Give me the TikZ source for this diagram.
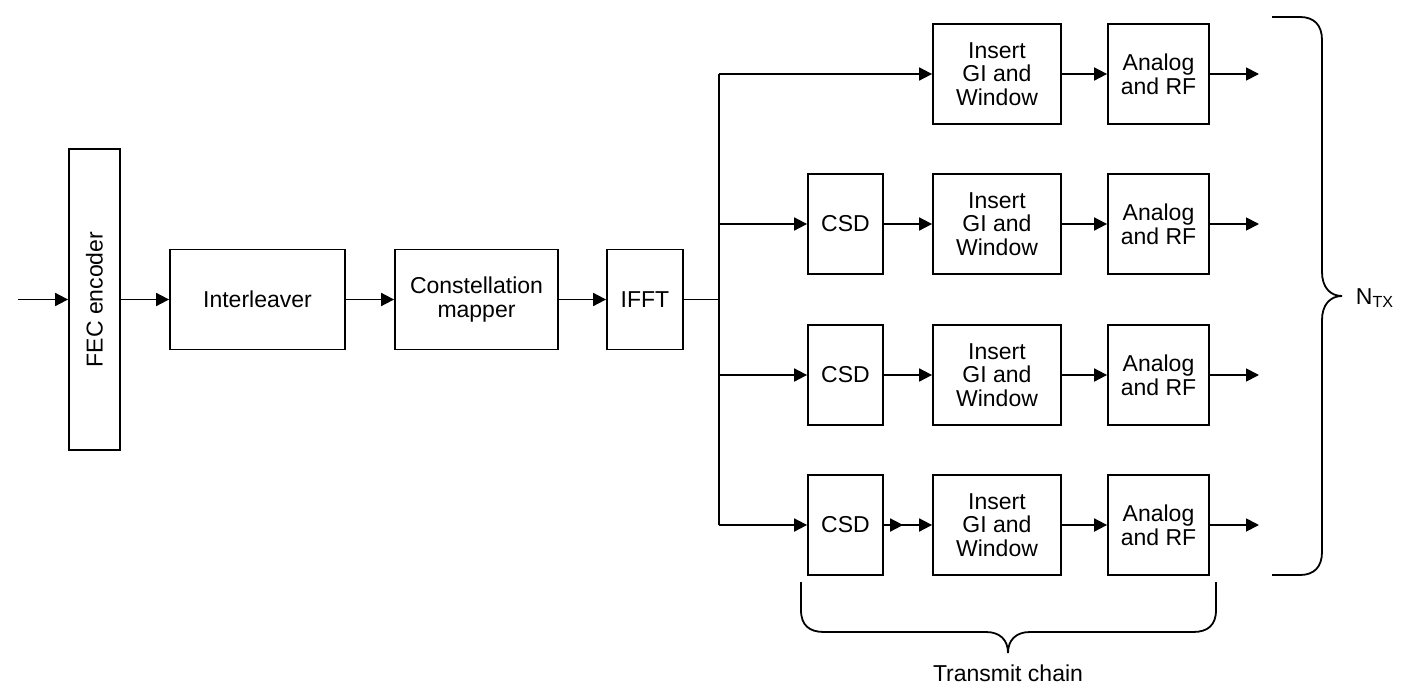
\documentclass[tikz,border=0pt]{standalone}
\usepackage{fontspec}
\setmainfont{Liberation Sans}
\usepackage{tikz}
\usetikzlibrary{arrows.meta}
\tikzset{
  blk/.style={draw, line width=0.9pt, align=center, inner sep=1pt,
    minimum height=50pt, font=\fontsize{11.5}{11.8}\selectfont},
  conn/.style={line width=0.9pt, -{Triangle[length=6.5pt,width=6.5pt]}},
  wire/.style={line width=0.9pt},
  brc/.style={line width=0.9pt},
}

\begin{document}
\begin{tikzpicture}[x=0.5pt, y=-0.5pt]
\useasboundingbox (0,0) rectangle (1409,696);

\coordinate (in) at (18,299.5);
\node [blk, minimum width=25.5pt, minimum height=150.5pt] (fec) at (94.5,299.5) {};
\node [rotate=90, font=\fontsize{11.5}{11.8}\selectfont] (feclbl) at (fec.center) {FEC encoder};
\node [blk, minimum width=87.5pt] (intl) at (257.5,299.5) {Interleaver};
\node [blk, minimum width=81.5pt] (cmap) at (476.5,299.5) {Constellation\\mapper};
\node [blk, minimum width=38pt]   (ifft) at (645,299.5)   {IFFT};
\draw [conn] (in) to (fec);
\draw [conn] (fec) to (intl);
\draw [conn] (intl) to (cmap);
\draw [conn] (cmap) to (ifft);

\coordinate (bus)  at (719,299.5);
\coordinate (bus1) at (719,74);
\coordinate (bus2) at (719,224);
\coordinate (bus3) at (719,375);
\coordinate (bus4) at (719,525);
\draw [wire] (ifft) to (bus);
\draw [wire] (bus1) to (bus4);

\node [blk, minimum width=64pt]   (ins1) at (997,74)    {Insert\\GI and\\Window};
\node [blk, minimum width=50.5pt] (rf1)  at (1158.5,74) {Analog\\and RF};
\coordinate (out1) at (1259,74);
\draw [conn] (bus1) to (ins1);
\draw [conn] (ins1) to (rf1);
\draw [conn] (rf1) to (out1);

\node [blk, minimum width=37.5pt] (csd2) at (845.5,224)  {CSD};
\node [blk, minimum width=64pt]   (ins2) at (997,224)    {Insert\\GI and\\Window};
\node [blk, minimum width=50.5pt] (rf2)  at (1158.5,224) {Analog\\and RF};
\coordinate (out2) at (1259,224);
\draw [conn] (bus2) to (csd2);
\draw [conn] (csd2) to (ins2);
\draw [conn] (ins2) to (rf2);
\draw [conn] (rf2) to (out2);

\node [blk, minimum width=37.5pt] (csd3) at (845.5,375)  {CSD};
\node [blk, minimum width=64pt]   (ins3) at (997,375)    {Insert\\GI and\\Window};
\node [blk, minimum width=50.5pt] (rf3)  at (1158.5,375) {Analog\\and RF};
\coordinate (out3) at (1259,375);
\draw [conn] (bus3) to (csd3);
\draw [conn] (csd3) to (ins3);
\draw [conn] (ins3) to (rf3);
\draw [conn] (rf3) to (out3);

\node [blk, minimum width=37.5pt] (csd4) at (845.5,525)  {CSD};
\node [blk, minimum width=64pt]   (ins4) at (997,525)    {Insert\\GI and\\Window};
\node [blk, minimum width=50.5pt] (rf4)  at (1158.5,525) {Analog\\and RF};
\coordinate (out4) at (1259,525);
\draw [conn] (bus4) to (csd4);
\draw [line width=0.9pt, -{Triangle[length=6.5pt,width=6.5pt,sep=8pt]Triangle[length=6.5pt,width=6.5pt]}] (csd4) to (ins4);
\draw [conn] (ins4) to (rf4);
\draw [conn] (rf4) to (out4);

\draw [brc] (1272,17) -- (1300,17) .. controls (1314,17) and (1322,25) .. (1322,40)
  -- (1322,272) .. controls (1322,287) and (1330,296) .. (1342,296)
  .. controls (1330,296) and (1322,305) .. (1322,320)
  -- (1322,552) .. controls (1322,567) and (1314,575) .. (1300,575) -- (1272,575);
\node [font=\fontsize{11.5}{11.8}\selectfont] (ntx) at (1375,298) {N\textsubscript{TX}};

\draw [brc] (801,582) -- (801,610) .. controls (801,625) and (809,632) .. (824,632)
  -- (986,632) .. controls (1000,632) and (1008,640) .. (1008,653)
  .. controls (1008,640) and (1016,632) .. (1030,632)
  -- (1193,632) .. controls (1208,632) and (1216,625) .. (1216,610) -- (1216,582);
\node [font=\fontsize{11.5}{11.8}\selectfont] (tc) at (1008,673) {Transmit chain};
\end{tikzpicture}
\end{document}
